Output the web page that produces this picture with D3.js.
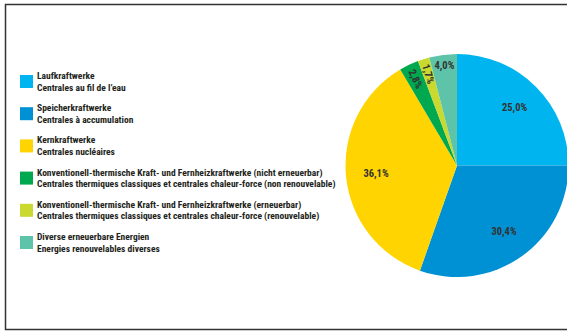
<!DOCTYPE html>
<html>
<head>
<meta charset="utf-8">
<script src="https://cdn.jsdelivr.net/npm/d3@7"></script>
<style>
  body { margin: 0; background: #fff; }
  text { font-family: "Liberation Sans Narrow", "Roboto Condensed", "Liberation Sans", sans-serif; }
</style>
</head>
<body>
<svg id="chart"></svg>
<script>
const width = 567, height = 331;

// Data
const labelsDe = [
    "Laufkraftwerke",
    "Speicherkraftwerke",
    "Kernkraftwerke",
    "Konventionell-thermische Kraft- und Fernheizkraftwerke (nicht erneuerbar)",
    "Konventionell-thermische Kraft- und Fernheizkraftwerke (erneuerbar)",
    "Diverse erneuerbare Energien"
];
const labelsFr = [
    "Centrales au fil de l\u2019eau",
    "Centrales \u00e0 accumulation",
    "Centrales nucl\u00e9aires",
    "Centrales thermiques classiques et centrales chaleur-force (non renouvelable)",
    "Centrales thermiques classiques et centrales chaleur-force (renouvelable)",
    "Energies renouvelables diverses"
];
const shares = [25.0, 30.4, 36.1, 2.8, 1.7, 4.0];
const colors = ["#00b5ef", "#0091d5", "#ffd400", "#00a84f", "#c9d92f", "#5dc4aa"];

const svg = d3.select("#chart")
    .attr("width", width)
    .attr("height", height);

// frame
svg.append("rect")
    .attr("x", 5.5).attr("y", 4.5)
    .attr("width", 620).attr("height", 325)
    .attr("fill", "none")
    .attr("stroke", "#333")
    .attr("stroke-width", 1.5);

// Pie
const cx = 457, cy = 165.5, radius = 111.5;
const pie = d3.pie().sort(null).value(d => d)(shares);
const arc = d3.arc().innerRadius(0).outerRadius(radius);

const g = svg.append("g").attr("transform", `translate(${cx},${cy})`);
g.selectAll("path")
    .data(pie)
    .join("path")
    .attr("d", arc)
    .attr("fill", (d, i) => colors[i]);

const fmt = v => v.toFixed(1).replace(".", ",") + "%";

g.selectAll("text.val")
    .data(pie)
    .join("text")
    .attr("class", "val")
    .attr("text-anchor", "middle")
    .attr("dominant-baseline", "central")
    .attr("font-size", 10.5)
    .attr("font-weight", "bold")
    .attr("fill", "#333")
    .attr("transform", (d, i) => {
        const a = (d.startAngle + d.endAngle) / 2;
        const small = d.data < 3.5;
        const r = small ? radius * 0.86 : (d.data < 5 ? radius * 0.9 : radius * 0.73);
        const x = r * Math.sin(a), y = -r * Math.cos(a);
        const rot = small ? a * 180 / Math.PI + 90 : 0;
        return `translate(${x},${y}) rotate(${rot})`;
    })
    .text(d => fmt(d.data));

// Legend
const legend = svg.append("g");
const itemY = d3.scalePoint().domain(d3.range(shares.length)).range([75, 236]);

const items = legend.selectAll("g.item")
    .data(shares)
    .join("g")
    .attr("class", "item")
    .attr("transform", (d, i) => `translate(20,${itemY(i)})`);

items.append("rect")
    .attr("width", 13).attr("height", 13)
    .attr("fill", (d, i) => colors[i]);

items.append("text")
    .attr("x", 17).attr("y", 4)
    .attr("font-size", 9.5)
    .attr("font-weight", "bold")
    .attr("fill", "#231f20")
    .text((d, i) => labelsDe[i]);

items.append("text")
    .attr("x", 17).attr("y", 15.5)
    .attr("font-size", 9.5)
    .attr("font-weight", "bold")
    .attr("fill", "#231f20")
    .text((d, i) => labelsFr[i]);
</script>
</body>
</html>
